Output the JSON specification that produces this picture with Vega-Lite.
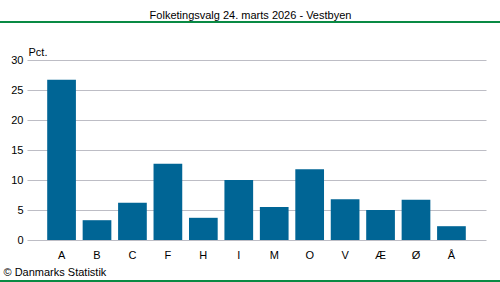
{
  "$schema": "https://vega.github.io/schema/vega-lite/v6.json",
  "width": 459,
  "height": 180,
  "autosize": {"type": "none"},
  "padding": {"left": 27, "top": 60, "right": 14, "bottom": 42},
  "background": "white",
  "config": {
    "view": {"stroke": null},
    "font": "Liberation Sans"
  },
  "title": {
    "text": "Folketingsvalg 24. marts 2026 - Vestbyen",
    "anchor": "middle",
    "frame": "group",
    "dx": -6,
    "offset": 0,
    "fontSize": 11,
    "fontWeight": "normal",
    "color": "#000000",
    "font": "Liberation Sans"
  },
  "data": {
    "values": [
      {"parti": "A", "pct": 26.7},
      {"parti": "B", "pct": 3.3},
      {"parti": "C", "pct": 6.2},
      {"parti": "F", "pct": 12.7},
      {"parti": "H", "pct": 3.7},
      {"parti": "I", "pct": 10.0},
      {"parti": "M", "pct": 5.5},
      {"parti": "O", "pct": 11.8},
      {"parti": "V", "pct": 6.8},
      {"parti": "Æ", "pct": 5.0},
      {"parti": "Ø", "pct": 6.7},
      {"parti": "Å", "pct": 2.3}
    ]
  },
  "layer": [
    {
      "mark": {"type": "bar", "color": "#006595"},
      "encoding": {
        "x": {
          "field": "parti",
          "type": "nominal",
          "sort": null,
          "scale": {"paddingInner": 0.19, "paddingOuter": 0.57},
          "axis": {
            "title": "© Danmarks Statistik",
            "titleX": -24,
            "titleY": 35,
            "titleAlign": "left",
            "titleAnchor": null,
            "titleBaseline": "alphabetic",
            "titleFontSize": 11,
            "titleFontWeight": "normal",
            "titleColor": "#000000",
            "titleFont": "Liberation Sans",
            "labelAngle": 0,
            "labelFontSize": 11,
            "labelColor": "#000000",
            "labelPadding": 9,
            "ticks": false,
            "domain": false
          }
        },
        "y": {
          "field": "pct",
          "type": "quantitative",
          "scale": {"domain": [0, 30]},
          "axis": {
            "values": [0, 5, 10, 15, 20, 25, 30],
            "title": "Pct.",
            "titleAngle": 0,
            "titleX": 1,
            "titleY": -5,
            "titleAlign": "left",
            "titleBaseline": "alphabetic",
            "titleFontSize": 11,
            "titleFontWeight": "normal",
            "titleColor": "#000000",
            "titleFont": "Liberation Sans",
            "labelFontSize": 11,
            "labelColor": "#000000",
            "labelPadding": 4,
            "ticks": false,
            "domain": false,
            "grid": true,
            "gridColor": "#bdbdc5",
            "gridWidth": 1
          }
        }
      }
    },
    {
      "mark": {"type": "rule", "color": "#0a8a45", "strokeWidth": 1.5},
      "encoding": {
        "x": {"value": -27},
        "x2": {"value": 473},
        "y": {"value": -38}
      }
    },
    {
      "mark": {"type": "rule", "color": "#0a8a45", "strokeWidth": 1.5},
      "encoding": {
        "x": {"value": -27},
        "x2": {"value": 473},
        "y": {"value": 221}
      }
    }
  ]
}
